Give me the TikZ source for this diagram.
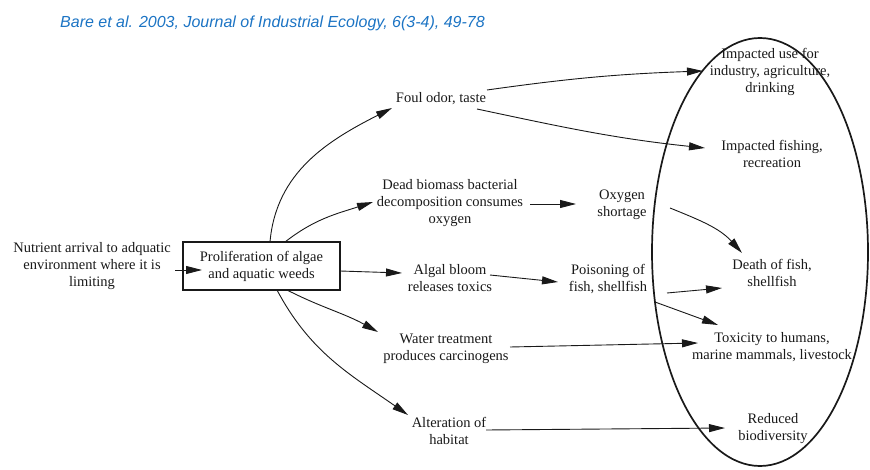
\documentclass[tikz,border=0pt]{standalone}
\usepackage{fontspec}
\setmainfont{Liberation Serif}
\newfontfamily\citefont{Liberation Sans}
\usetikzlibrary{arrows.meta,shapes.geometric}
\definecolor{citeblue}{RGB}{28,116,196}
\definecolor{ink}{RGB}{25,25,25}
\begin{document}
\begin{tikzpicture}[x=1pt,y=-1pt,
  lbl/.style={align=center,inner sep=0pt,text=ink,
    font=\fontsize{14.5}{17}\selectfont},
  arr/.style={draw=ink,line width=0.9pt,
    -{Triangle[length=16pt,width=8pt]}},
  boxed/.style={lbl,draw=ink,line width=1.9pt,minimum width=157pt,minimum height=48pt},
  region/.style={draw=ink,ellipse,line width=1.7pt,minimum width=216pt,minimum height=428pt,inner sep=0pt}]
\useasboundingbox (0,0) rectangle (870,470);

% citation line
\node[anchor=base west,inner sep=0pt,text=citeblue,font=\citefont\itshape\fontsize{16}{19}\selectfont]
  (cite) at (60,28) {Bare et al. 2003, Journal of Industrial Ecology, 6(3-4), 49-78};

% enclosing region of the end impacts
\node[region] (impacts) at (760,252) {};

% cause chain
\node[lbl] (nutrient) at (92,266) {Nutrient arrival to adquatic\\environment where it is\\limiting};
\node[boxed] (prolif) at (261.5,266) {Proliferation of algae\\and aquatic weeds};
\node[lbl] (foul) at (441,99) {Foul odor, taste};
\node[lbl] (dead) at (450,203) {Dead biomass bacterial\\decomposition consumes\\oxygen};
\node[lbl] (oxygen) at (622,205) {Oxygen\\shortage};
\node[lbl] (algal) at (450,278) {Algal bloom\\releases toxics};
\node[lbl] (poison) at (608,279) {Poisoning of\\fish, shellfish};
\node[lbl] (water) at (446,349) {Water treatment\\produces carcinogens};
\node[lbl] (alter) at (449,431) {Alteration of\\habitat};

% end impacts
\node[lbl] (use) at (770,72) {Impacted use for\\industry, agriculture,\\drinking};
\node[lbl] (fishing) at (772,154) {Impacted fishing,\\recreation};
\node[lbl] (death) at (772,273) {Death of fish,\\shellfish};
\node[lbl] (toxic) at (772,347) {Toxicity to humans,\\marine mammals, livestock};
\node[lbl] (reduced) at (773,429) {Reduced\\biodiversity};

% connectors
\draw[arr] ([shift={(83,4)}]nutrient.center) -- ([shift={(-59.5,4)}]prolif.center);
\draw[arr] ([shift={(8.5,-24)}]prolif.center) to[out=85,in=207] ([shift={(-49,9)}]foul.center);
\draw[arr] ([shift={(23.5,-24)}]prolif.center) to[out=38,in=198] ([shift={(-77,-1)}]dead.center);
\draw[arr] ([shift={(78.5,5)}]prolif.center) -- ([shift={(-48,-5)}]algal.center);
\draw[arr] ([shift={(25.5,24)}]prolif.center) to[out=-27,in=151] ([shift={(-68,-17)}]water.center);
\draw[arr] ([shift={(15.5,24)}]prolif.center) to[out=-62,in=145] ([shift={(-41,-16)}]alter.center);

\draw[arr] ([shift={(46,-9)}]foul.center) to[out=8,in=182] ([shift={(-67,-1)}]use.center);
\draw[arr] ([shift={(36,10)}]foul.center) to[out=-12,in=174] ([shift={(-67,-6)}]fishing.center);
\draw[arr] ([shift={(80,1)}]dead.center) -- ([shift={(-46,-1)}]oxygen.center);
\draw[arr] ([shift={(40,-3)}]algal.center) -- ([shift={(-50,3)}]poison.center);
\draw[arr] ([shift={(48,3)}]oxygen.center) to[out=-22,in=132] ([shift={(-30,-20)}]death.center);
\draw[arr] ([shift={(59,14)}]poison.center) -- ([shift={(-50,15)}]death.center);
\draw[arr] ([shift={(47,23)}]poison.center) -- ([shift={(-54,-22)}]toxic.center);
\draw[arr] ([shift={(64,-2)}]water.center) -- ([shift={(-74,-4)}]toxic.center);
\draw[arr] ([shift={(37,-1)}]alter.center) -- ([shift={(-48,-1)}]reduced.center);
\end{tikzpicture}
\end{document}
